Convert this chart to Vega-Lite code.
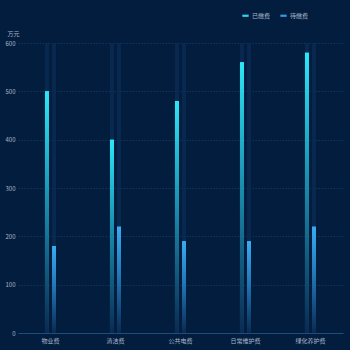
{
  "$schema": "https://vega.github.io/schema/vega-lite/v6.json",
  "width": 325,
  "height": 290,
  "autosize": {"type": "none"},
  "padding": {"left": 18, "top": 43, "right": 7, "bottom": 17},
  "background": "#031d3e",
  "config": {"view": {"stroke": null}, "font": "Noto Sans CJK SC"},
  "data": {
    "values": [
      {"cat": "物业费", "series": "已缴费", "value": 500, "max": 600},
      {"cat": "物业费", "series": "待缴费", "value": 180, "max": 600},
      {"cat": "清洁费", "series": "已缴费", "value": 400, "max": 600},
      {"cat": "清洁费", "series": "待缴费", "value": 220, "max": 600},
      {"cat": "公共电费", "series": "已缴费", "value": 480, "max": 600},
      {"cat": "公共电费", "series": "待缴费", "value": 190, "max": 600},
      {"cat": "日常维护费", "series": "已缴费", "value": 560, "max": 600},
      {"cat": "日常维护费", "series": "待缴费", "value": 190, "max": 600},
      {"cat": "绿化养护费", "series": "已缴费", "value": 580, "max": 600},
      {"cat": "绿化养护费", "series": "待缴费", "value": 220, "max": 600}
    ]
  },
  "encoding": {
    "x": {
      "field": "cat", "type": "nominal", "sort": null,
      "scale": {"paddingInner": 0.83, "paddingOuter": 0.415},
      "axis": {"title": null, "labelAngle": 0, "labelColor": "#a9b8cc", "labelFontSize": 6, "labelPadding": 4, "ticks": false, "domainColor": "#1d4d7c", "domainWidth": 1, "grid": false}
    },
    "xOffset": {"field": "series", "type": "nominal", "sort": ["已缴费", "待缴费"], "scale": {"domain": ["已缴费", "待缴费"], "paddingInner": 0.43, "paddingOuter": 0}}
  },
  "layer": [
    {
      "mark": {"type": "bar", "fill": "#0a2a52", "opacity": 0.85},
      "encoding": {
        "y": {
          "field": "max", "type": "quantitative",
          "scale": {"domain": [0, 600]},
          "axis": {"title": "万元", "titleAngle": 0, "titleX": -5, "titleY": -7, "titleAlign": "center", "titleBaseline": "bottom", "titleColor": "#a9b8cc", "titleFontSize": 6, "titleFontWeight": "normal", "values": [0, 100, 200, 300, 400, 500, 600], "labelColor": "#a9b8cc", "labelFontSize": 6, "labelPadding": 3, "ticks": false, "domain": false, "gridColor": "#163b64", "gridDash": [1.5, 1.5], "gridWidth": 0.8}
        }
      }
    },
    {
      "mark": {"type": "bar"},
      "encoding": {
        "y": {"field": "value", "type": "quantitative"},
        "color": {
          "field": "series", "type": "nominal",
          "scale": {"domain": ["已缴费", "待缴费"], "range": ["#2bd6ee", "#2f9be0"]},
          "legend": {"title": null, "orient": "none", "legendX": 224, "legendY": -31, "direction": "horizontal", "labelColor": "#a9b8cc", "labelFontSize": 6, "symbolType": "M-1,-0.35H1V0.35H-1Z", "symbolSize": 40, "symbolStrokeWidth": 0, "columnPadding": 9, "labelOffset": 3}
        }
      }
    },
    {
      "transform": [{"filter": "datum.series === '已缴费'"}],
      "mark": {"type": "bar", "fill": {"gradient": "linear", "x1": 0, "y1": 0, "x2": 0, "y2": 1, "stops": [{"offset": 0, "color": "#2de6f6"}, {"offset": 0.45, "color": "#1a8fb0"}, {"offset": 1, "color": "#0a2a52"}]}},
      "encoding": {"y": {"field": "value", "type": "quantitative"}}
    },
    {
      "transform": [{"filter": "datum.series === '待缴费'"}],
      "mark": {"type": "bar", "fill": {"gradient": "linear", "x1": 0, "y1": 0, "x2": 0, "y2": 1, "stops": [{"offset": 0, "color": "#38acf2"}, {"offset": 0.45, "color": "#2178b8"}, {"offset": 1, "color": "#0a2a52"}]}},
      "encoding": {"y": {"field": "value", "type": "quantitative"}}
    }
  ]
}
